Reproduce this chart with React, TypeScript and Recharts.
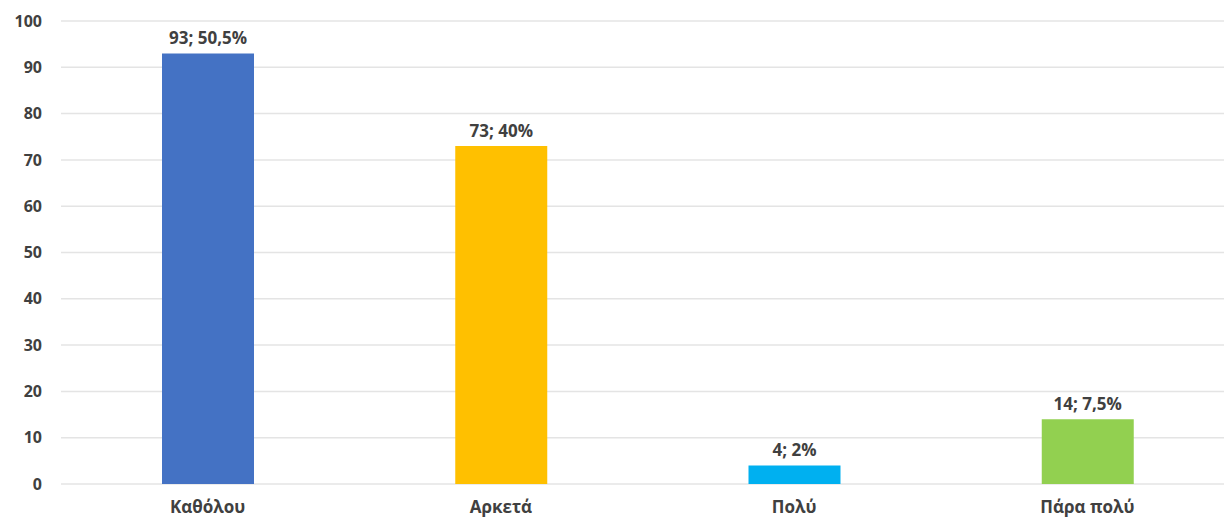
import { BarChart, Bar, XAxis, YAxis, CartesianGrid, Cell, LabelList } from "recharts";

const categories = ["Καθόλου", "Αρκετά", "Πολύ", "Πάρα πολύ"];
const counts = [93, 73, 4, 14];
const percents = ["50,5%", "40%", "2%", "7,5%"];
const colors = ["#4472C4", "#FFC000", "#00B0F0", "#92D050"];
const yTicks = [0, 10, 20, 30, 40, 50, 60, 70, 80, 90, 100];

const data = categories.map((name, i) => ({
  name,
  value: counts[i],
  label: `${counts[i]}; ${percents[i]}`,
}));

const font = "'Open Sans', 'DejaVu Sans', sans-serif";

export default function App() {
  return (
    <div style={{ position: "fixed", left: 0, top: 0, width: 1224, height: 520, overflow: "hidden", background: "#fff" }}>
      <BarChart
        width={1234}
        height={520}
        data={data}
        margin={{ top: 21, right: 0, left: 0, bottom: 0 }}
      >
        <CartesianGrid vertical={false} stroke="#E4E4E4" strokeWidth={1.5} />
        <XAxis
          dataKey="name"
          axisLine={false}
          tickLine={false}
          height={36}
          tickMargin={11}
          tick={{ fill: "#404040", fontSize: 17, fontWeight: 700, fontFamily: font }}
        />
        <YAxis
          width={61}
          domain={[0, 100]}
          ticks={yTicks}
          axisLine={false}
          tickLine={false}
          tickMargin={13}
          tick={{ fill: "#404040", fontSize: 16, fontWeight: 700, fontFamily: font }}
        />
        <Bar dataKey="value" barSize={92} isAnimationActive={false}>
          {data.map((d, i) => (
            <Cell key={d.name} fill={colors[i]} />
          ))}
          <LabelList
            dataKey="label"
            position="top"
            offset={9}
            style={{ fill: "#404040", fontSize: 17, fontWeight: 700, fontFamily: font }}
          />
        </Bar>
      </BarChart>
    </div>
  );
}
